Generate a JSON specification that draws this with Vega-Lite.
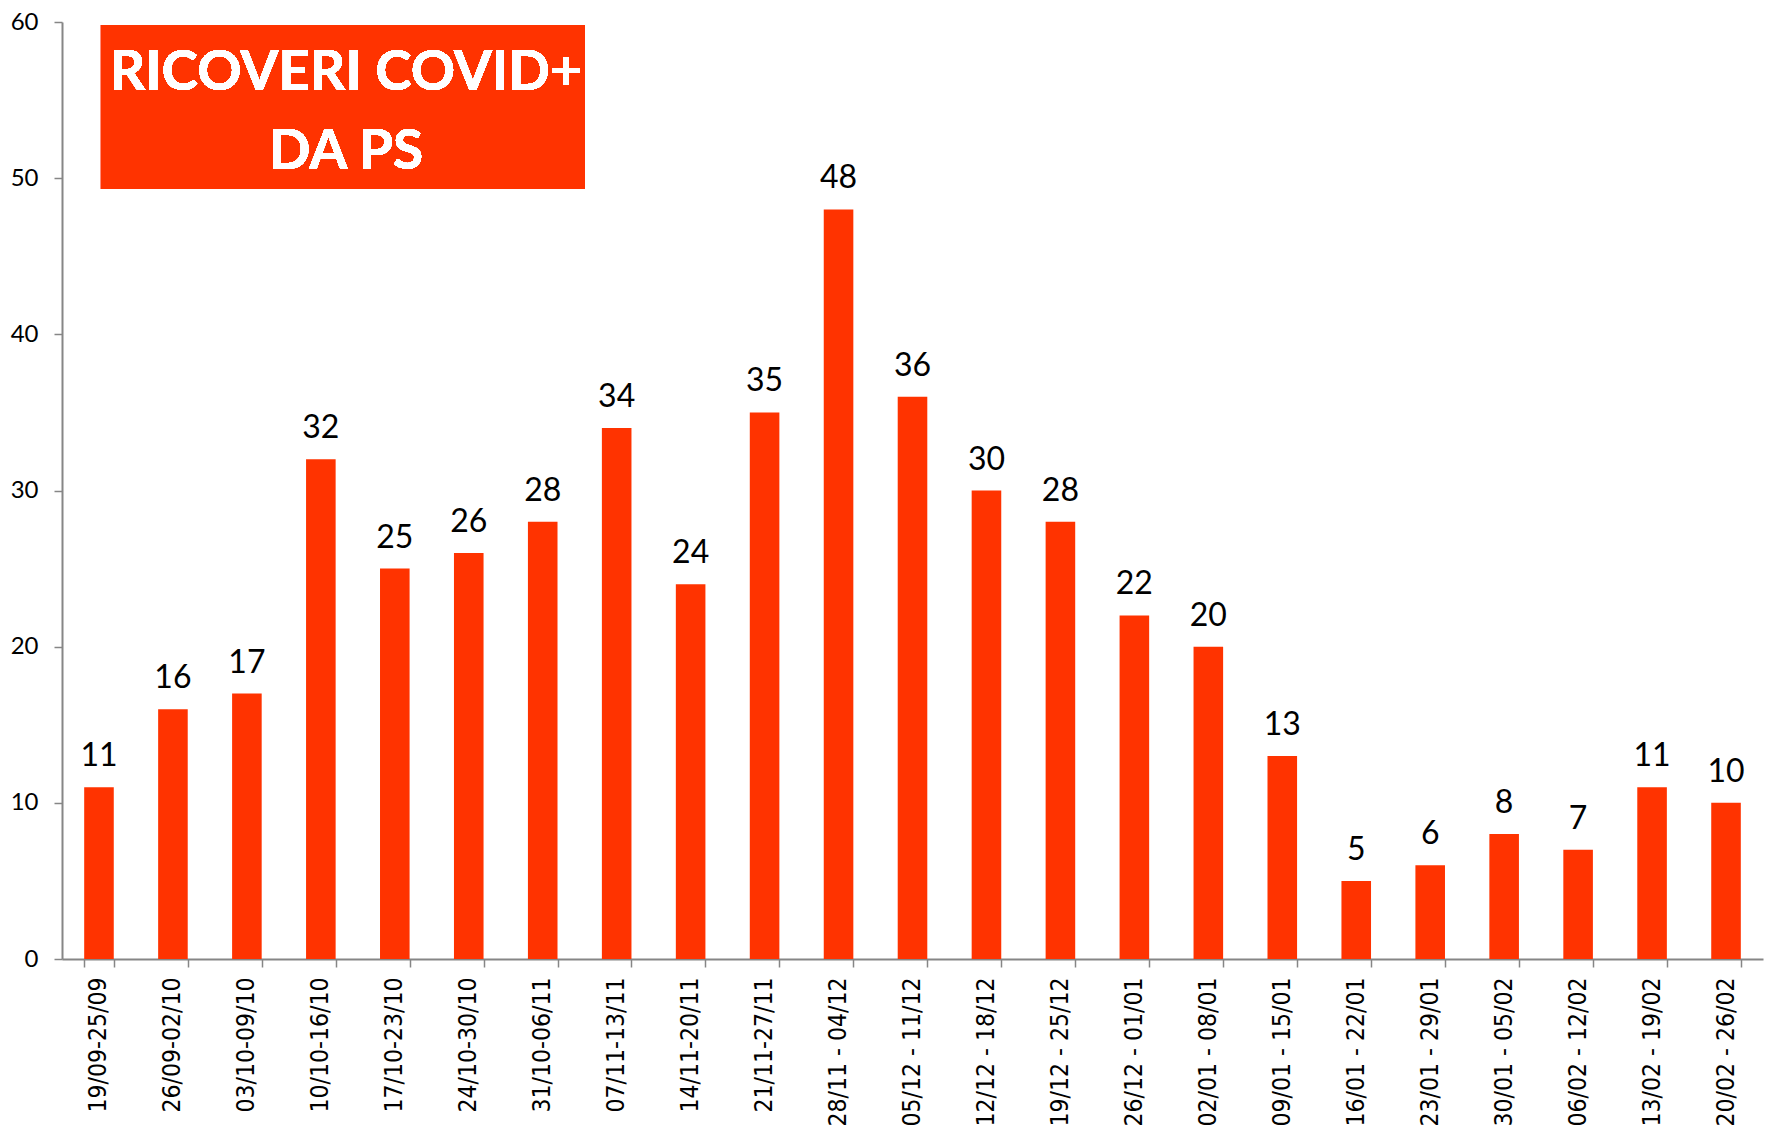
{
  "$schema": "https://vega.github.io/schema/vega-lite/v6.json",
  "width": 1701,
  "height": 937,
  "autosize": {"type": "none"},
  "padding": {"left": 62, "top": 22, "right": 4, "bottom": 173},
  "background": "white",
  "config": {
    "view": {"stroke": null},
    "axisY": {
      "title": null,
      "grid": false,
      "labelFont": "Lato",
      "labelFontSize": 24,
      "labelColor": "black",
      "labelPadding": 16,
      "tickSize": 8,
      "tickWidth": 1.5,
      "tickColor": "#868686",
      "domainColor": "#868686",
      "domainWidth": 2
    },
    "axisX": {
      "title": null,
      "labelAngle": -90,
      "labelFont": "'DejaVu Sans Condensed', 'Liberation Sans', sans-serif",
      "labelFontSize": 24.5,
      "labelColor": "black",
      "labelLimit": 400,
      "labelPadding": 10,
      "tickBand": "extent",
      "tickSize": 8,
      "tickWidth": 1.5,
      "tickColor": "#868686",
      "domainColor": "#868686",
      "domainWidth": 2
    }
  },
  "data": {
    "values": [
      {"settimana": "19/09-25/09", "ricoveri": 11},
      {"settimana": "26/09-02/10", "ricoveri": 16},
      {"settimana": "03/10-09/10", "ricoveri": 17},
      {"settimana": "10/10-16/10", "ricoveri": 32},
      {"settimana": "17/10-23/10", "ricoveri": 25},
      {"settimana": "24/10-30/10", "ricoveri": 26},
      {"settimana": "31/10-06/11", "ricoveri": 28},
      {"settimana": "07/11-13/11", "ricoveri": 34},
      {"settimana": "14/11-20/11", "ricoveri": 24},
      {"settimana": "21/11-27/11", "ricoveri": 35},
      {"settimana": "28/11 - 04/12", "ricoveri": 48},
      {"settimana": "05/12 - 11/12", "ricoveri": 36},
      {"settimana": "12/12 - 18/12", "ricoveri": 30},
      {"settimana": "19/12 - 25/12", "ricoveri": 28},
      {"settimana": "26/12 - 01/01", "ricoveri": 22},
      {"settimana": "02/01 - 08/01", "ricoveri": 20},
      {"settimana": "09/01 - 15/01", "ricoveri": 13},
      {"settimana": "16/01 - 22/01", "ricoveri": 5},
      {"settimana": "23/01 - 29/01", "ricoveri": 6},
      {"settimana": "30/01 - 05/02", "ricoveri": 8},
      {"settimana": "06/02 - 12/02", "ricoveri": 7},
      {"settimana": "13/02 - 19/02", "ricoveri": 11},
      {"settimana": "20/02 - 26/02", "ricoveri": 10}
    ]
  },
  "layer": [
    {
      "encoding": {
        "x": {
          "field": "settimana",
          "type": "nominal",
          "sort": null,
          "scale": {"paddingInner": 0.6, "paddingOuter": 0.3}
        },
        "y": {
          "field": "ricoveri",
          "type": "quantitative",
          "scale": {"domain": [0, 60], "nice": false},
          "axis": {"values": [0, 10, 20, 30, 40, 50, 60]}
        }
      },
      "layer": [
        {"mark": {"type": "bar", "color": "#FF3300"}},
        {
          "mark": {"type": "text", "font": "Lato", "fontSize": 32, "color": "black", "baseline": "alphabetic", "dy": -21},
          "encoding": {"text": {"field": "ricoveri", "type": "quantitative"}}
        }
      ]
    },
    {
      "layer": [
        {
          "mark": {"type": "rect", "color": "#FF3300"},
          "encoding": {
            "x": {"datum": 0.527, "type": "quantitative", "scale": {"domain": [0, 23], "nice": false, "zero": false}, "axis": null},
            "x2": {"datum": 7.07},
            "y": {"datum": 59.81, "type": "quantitative"},
            "y2": {"datum": 49.31}
          }
        },
        {
          "mark": {"type": "text", "font": "Lato", "fontWeight": "bold", "fontSize": 55, "color": "white", "align": "center", "baseline": "alphabetic", "lineHeight": 79},
          "encoding": {
            "x": {"datum": 3.84, "type": "quantitative", "scale": {"domain": [0, 23], "nice": false, "zero": false}, "axis": null},
            "y": {"datum": 55.64, "type": "quantitative"},
            "text": {"value": ["RICOVERI COVID+", "DA PS"]}
          }
        }
      ]
    }
  ],
  "resolve": {"scale": {"x": "independent"}}
}
